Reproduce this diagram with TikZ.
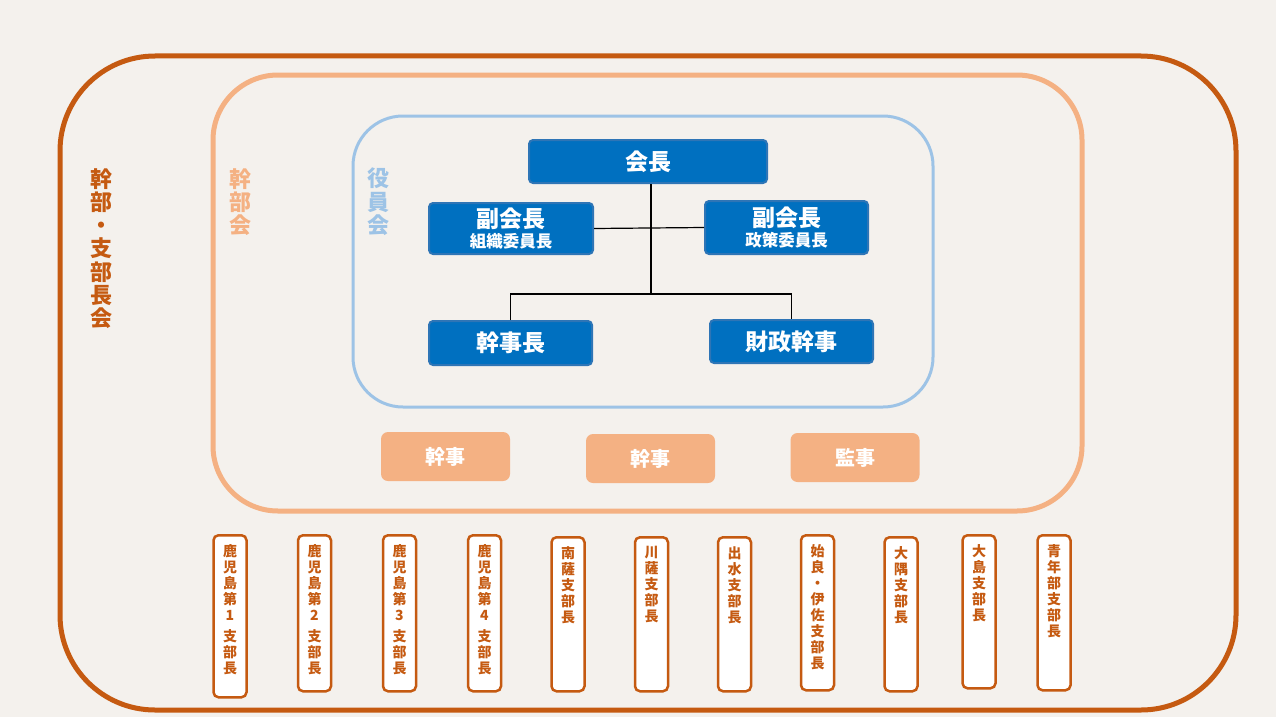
\documentclass[tikz,border=0pt]{standalone}
\usepackage{fontspec}
\setmainfont{Noto Sans CJK JP}
\usepackage{xcolor}
\definecolor{bgcolor}{HTML}{F4F1ED}
\definecolor{darkorange}{HTML}{C55A11}
\definecolor{lightorange}{HTML}{F4B183}
\definecolor{lightblue}{HTML}{9DC3E6}
\definecolor{officeblue}{HTML}{0070C0}
\definecolor{officeedge}{HTML}{2E75B6}
\newcommand{\tate}[2]{\parbox[c][#1][t]{30pt}{\centering #2}}

\begin{document}
\begin{tikzpicture}[x=1pt,y=-1pt,
  officer/.style={draw=officeedge,fill=officeblue,line width=2pt,rounded corners=4pt,text=white,font=\fontsize{23}{26}\selectfont\bfseries,align=center,inner sep=0pt},
  staff/.style={fill=lightorange,rounded corners=7pt,text=white,font=\fontsize{20}{22}\selectfont\bfseries,minimum width=129pt,minimum height=49pt,inner sep=0pt},
  branch/.style={draw=darkorange,fill=white,line width=2.5pt,rounded corners=5pt,inner xsep=1.5pt,inner ysep=9pt,text=darkorange,font=\fontsize{14}{16}\selectfont\bfseries,anchor=north},
  tatelabel/.style={anchor=north,align=center,inner sep=0pt,font=\fontsize{22}{23.3}\selectfont\bfseries}]
  \useasboundingbox (0,0) rectangle (1276,717);
  \fill[bgcolor] (0,0) rectangle (1276,717);
  % frames
  \draw[darkorange,line width=5pt,rounded corners=95pt] (60,56) rectangle (1236,710);
  \draw[lightorange,line width=5pt,rounded corners=65pt] (213,75) rectangle (1082,511);
  \draw[lightblue,line width=3pt,rounded corners=50pt] (353,116) rectangle (933,407);
  \node[tatelabel,text=darkorange]  (L1) at (101,168) {幹\\部\\・\\支\\部\\長\\会};
  \node[tatelabel,text=lightorange] (L2) at (240,168) {幹\\部\\会};
  \node[tatelabel,text=lightblue]   (L3) at (378,168) {役\\員\\会};
  % officers
  \node[officer,minimum width=238pt,minimum height=43pt] (K)  at (648,161.5) {会長};
  \node[officer,minimum width=164pt,minimum height=51pt] (V1) at (511,228.5) {副会長\\[-6pt]{\fontsize{16.5}{18}\selectfont 組織委員長}};
  \node[officer,minimum width=163pt,minimum height=53pt] (V2) at (786.5,227.5) {副会長\\[-6pt]{\fontsize{16.5}{18}\selectfont 政策委員長}};
  \node[officer,minimum width=163pt,minimum height=44pt] (S)  at (510.5,343) {幹事長};
  \node[officer,minimum width=163pt,minimum height=43pt] (T)  at (791.5,341.5) {財政幹事};
  \coordinate (H) at (651,294);
  \tikzset{link/.style={draw=black,line width=1.2pt}}
  \draw[link] (K.south -| H) -- (H);
  \draw[link] (V1.east) -- (V2.west);
  \draw[link] (S.north) |- (H) -| (T.north);
  % staff
  \node[staff] (J1) at (445.5,456.5) {幹事};
  \node[staff] (J2) at (650.5,458.5) {幹事};
  \node[staff] (M)  at (855,457.5)   {監事};
  % branches
  \node[branch] (B1)  at (230,534)    {\tate{144pt}{鹿\\児\\島\\第\\1\\[5pt]支\\部\\長}};
  \node[branch] (B2)  at (314.5,534)  {\tate{138pt}{鹿\\児\\島\\第\\2\\[5pt]支\\部\\長}};
  \node[branch] (B3)  at (399.5,534)  {\tate{138pt}{鹿\\児\\島\\第\\3\\[5pt]支\\部\\長}};
  \node[branch] (B4)  at (484.5,534)  {\tate{138pt}{鹿\\児\\島\\第\\4\\[5pt]支\\部\\長}};
  \node[branch] (B5)  at (568,536)    {\tate{136pt}{南\\薩\\支\\部\\長}};
  \node[branch] (B6)  at (651.5,536)  {\tate{136pt}{川\\薩\\支\\部\\長}};
  \node[branch] (B7)  at (734.5,536)  {\tate{136pt}{出\\水\\支\\部\\長}};
  \node[branch] (B8)  at (817.5,534)  {\tate{137pt}{始\\良\\・\\伊\\佐\\支\\部\\長}};
  \node[branch] (B9)  at (901,536)    {\tate{136pt}{大\\隅\\支\\部\\長}};
  \node[branch] (B10) at (979,534)    {\tate{135pt}{大\\島\\支\\部\\長}};
  \node[branch] (B11) at (1054,534)   {\tate{137pt}{青\\年\\部\\支\\部\\長}};
\end{tikzpicture}
\end{document}
